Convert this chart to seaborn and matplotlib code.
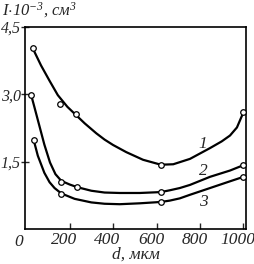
import matplotlib
matplotlib.use("Agg")
import matplotlib.pyplot as plt
import matplotlib.transforms as mtransforms
import seaborn as sns
import pandas as pd

sns.set_style("ticks")
plt.rcParams['font.family'] = ['Liberation Serif', 'DejaVu Serif']
plt.rcParams['mathtext.fontset'] = 'custom'
plt.rcParams['mathtext.rm'] = 'Liberation Serif:italic'
plt.rcParams['mathtext.it'] = 'Liberation Serif:italic'

# measured points (d, mkm ; I*10^-3, cm^3)
d1 = [30, 158, 231, 620, 1000]
i1 = [4.03, 2.78, 2.56, 1.42, 2.60]
d2 = [23, 162, 235, 620, 1000]
i2 = [2.99, 1.04, 0.94, 0.82, 1.42]
d3 = [35, 162, 620, 1000]
i3 = [1.98, 0.78, 0.60, 1.16]

# smooth trend curves
c1_d = [30, 69, 108, 146, 190, 231, 270, 323, 361, 400, 461, 538, 620, 677, 754, 846, 900, 938, 970, 1000]
c1_i = [4.03, 3.64, 3.30, 2.98, 2.72, 2.53, 2.35, 2.13, 1.99, 1.87, 1.71, 1.54, 1.43, 1.44, 1.56, 1.80, 1.95, 2.08, 2.26, 2.60]
c2_d = [23, 38, 61, 84, 110, 135, 162, 200, 235, 300, 361, 431, 523, 620, 661, 707, 754, 846, 938, 1000]
c2_i = [2.99, 2.72, 2.30, 1.88, 1.48, 1.22, 1.07, 0.99, 0.93, 0.85, 0.81, 0.80, 0.80, 0.82, 0.86, 0.91, 0.98, 1.16, 1.30, 1.42]
c3_d = [35, 54, 84, 108, 131, 162, 223, 300, 361, 431, 523, 620, 661, 707, 754, 846, 938, 1000]
c3_i = [1.98, 1.63, 1.25, 1.04, 0.91, 0.79, 0.67, 0.59, 0.56, 0.55, 0.57, 0.60, 0.63, 0.68, 0.76, 0.91, 1.06, 1.16]

curve_labels = ['1', '2', '3']
label_pos = [(814, 1.89), (814, 1.28), (814, 0.61)]

xticks = [200, 400, 600, 800, 1000]
yticks = [1.5, 3.0, 4.5]
ytick_labels = ['1,5', '3,0', '4,5']

curves = pd.concat([
    pd.DataFrame({'d': c1_d, 'I': c1_i, 'curve': '1'}),
    pd.DataFrame({'d': c2_d, 'I': c2_i, 'curve': '2'}),
    pd.DataFrame({'d': c3_d, 'I': c3_i, 'curve': '3'}),
])
points = pd.concat([
    pd.DataFrame({'d': d1, 'I': i1, 'curve': '1'}),
    pd.DataFrame({'d': d2, 'I': i2, 'curve': '2'}),
    pd.DataFrame({'d': d3, 'I': i3, 'curve': '3'}),
])

fig = plt.figure(figsize=(2.55, 2.64), dpi=100)
ax = fig.add_axes([0.098, 0.133, 0.867, 0.765])

sns.lineplot(data=curves, x='d', y='I', units='curve', estimator=None, sort=False,
             color='black', linewidth=1.6, ax=ax, zorder=2)
sns.scatterplot(data=points, x='d', y='I', color='white', edgecolor='black',
                linewidth=0.9, s=16, ax=ax, zorder=3)

for lab, (x, y) in zip(curve_labels, label_pos):
    ax.text(x, y, lab, fontsize=12.5, style='italic', ha='center', va='center')

ax.set_xlim(-5, 1012)
ax.set_ylim(0, 4.5)
ax.set_xticks(xticks)
ax.set_xticklabels([str(t) for t in xticks], fontsize=12.5, style='italic')
ax.set_yticks(yticks)
ax.set_yticklabels(ytick_labels, fontsize=11.5, style='italic')
ax.tick_params(axis='x', direction='in', length=4, width=1, pad=2)
ax.tick_params(axis='y', direction='inout', length=6, width=1, pad=0)
shift = mtransforms.ScaledTranslation(-4 / 72, 0, fig.dpi_scale_trans)
for lbl in ax.get_xticklabels():
    lbl.set_transform(lbl.get_transform() + shift)
for sp in ax.spines.values():
    sp.set_linewidth(1.2)
    sp.set_color('black')

ax.text(-0.01, -0.025, '0', transform=ax.transAxes, fontsize=12.5, style='italic',
        ha='right', va='top')
ax.set_xlabel('d, мкм', fontsize=12.5, style='italic', labelpad=-1)
ax.set_ylabel('')
fig.text(0.008, 0.998, r'$I{\cdot}10^{-3}$, см$^3$', fontsize=12, style='italic',
         ha='left', va='top')

plt.savefig('out.png', dpi=100)
